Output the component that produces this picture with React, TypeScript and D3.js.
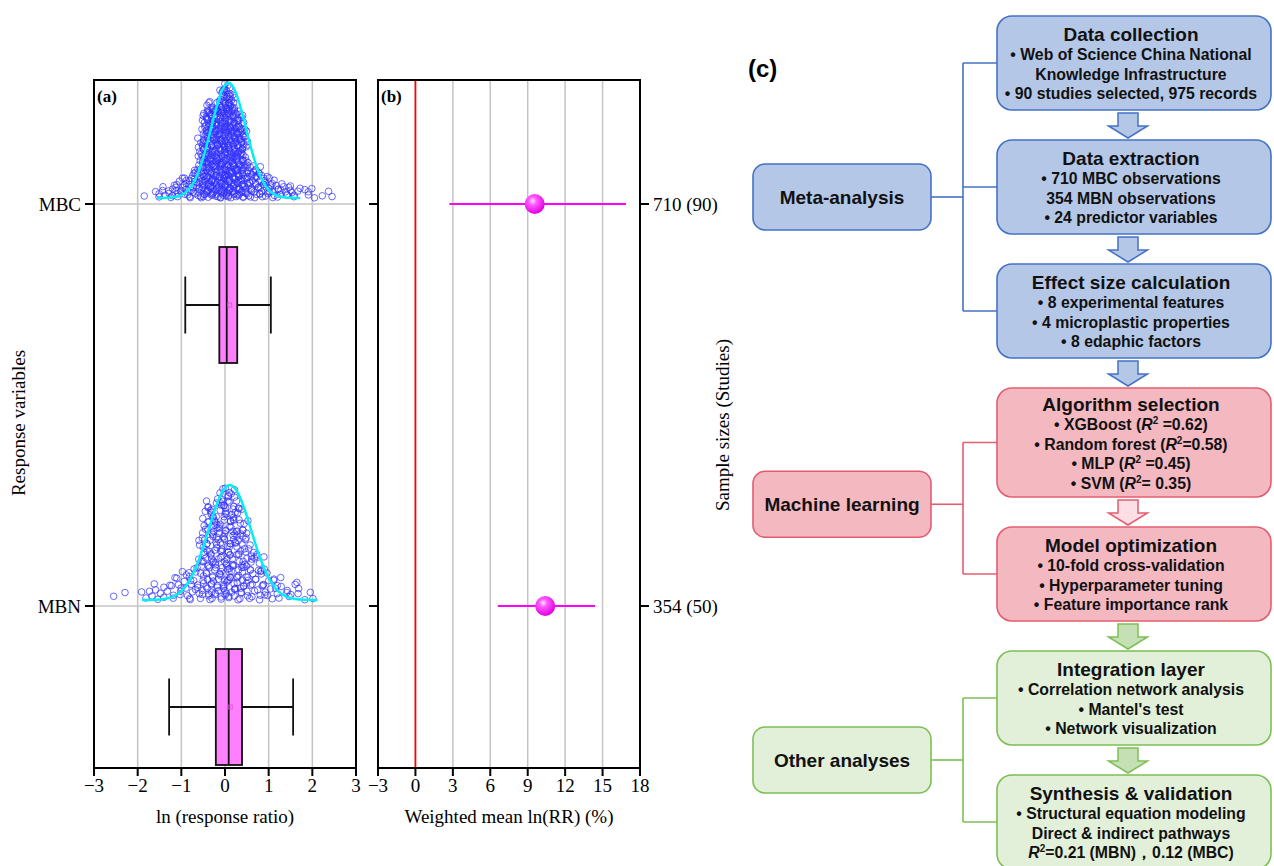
import * as d3 from 'd3';

// ---- data ----
const categories = ['MBC', 'MBN'];
const sampleLabels = ['710 (90)', '354 (50)'];

// ln(RR) distribution, [bin centre, count] per response variable (bin width 0.1)
const mbcBins: [number, number][] = [
  [-1.85, 1], [-1.55, 2], [-1.45, 2], [-1.35, 3], [-1.25, 3], [-1.15, 4], [-1.05, 5],
  [-0.95, 6], [-0.85, 8], [-0.75, 9], [-0.65, 10], [-0.55, 28], [-0.45, 50], [-0.35, 55],
  [-0.25, 50], [-0.15, 54], [-0.05, 66], [0.05, 70], [0.15, 60], [0.25, 52], [0.35, 45],
  [0.45, 35], [0.55, 12], [0.65, 12], [0.75, 11], [0.85, 9], [0.95, 7], [1.05, 6],
  [1.15, 5], [1.25, 4], [1.35, 4], [1.45, 3], [1.55, 3], [1.65, 3], [1.85, 2],
  [1.95, 2], [2.05, 1], [2.15, 1], [2.45, 2],
];
const mbnBins: [number, number][] = [
  [-2.55, 1], [-2.25, 1], [-1.85, 2], [-1.75, 1], [-1.65, 2], [-1.55, 2], [-1.45, 2],
  [-1.35, 2], [-1.25, 2], [-1.15, 3], [-1.05, 4], [-0.95, 4], [-0.85, 5], [-0.75, 5],
  [-0.65, 6], [-0.55, 12], [-0.45, 22], [-0.35, 23], [-0.25, 23], [-0.15, 24],
  [-0.05, 27], [0.05, 28], [0.15, 27], [0.25, 24], [0.35, 21], [0.45, 18], [0.55, 12],
  [0.65, 9], [0.75, 8], [0.85, 7], [0.95, 5], [1.05, 4], [1.15, 3], [1.25, 3],
  [1.35, 2], [1.45, 2], [1.55, 2], [1.65, 2], [1.75, 2], [1.95, 1], [2.05, 1],
];
const distBins = [mbcBins, mbnBins];

// fitted normal curves
const fitMean = [0.08, 0.11];
const fitSd = [0.40, 0.49];

// box plot statistics
const boxQ1 = [-0.13, -0.21];
const boxMedian = [0.04, 0.085];
const boxQ3 = [0.28, 0.39];
const boxMean = [0.11, 0.12];
const whiskerLow = [-0.91, -1.28];
const whiskerHigh = [1.05, 1.56];

// weighted mean effect (%) with 95% CI
const forestMean = [9.56, 10.4];
const forestLow = [2.72, 6.6];
const forestHigh = [16.88, 14.4];

const ticksA = [-3, -2, -1, 0, 1, 2, 3];
const ticksB = [-3, 0, 3, 6, 9, 12, 15, 18];

// ---- flowchart text ----
const groupLabels = ['Meta-analysis', 'Machine learning', 'Other analyses'];
const groupThemes = ['blue', 'pink', 'green'];
const stageGroup = [0, 0, 0, 1, 1, 2, 2];
const stageTitles = [
  'Data collection', 'Data extraction', 'Effect size calculation',
  'Algorithm selection', 'Model optimization', 'Integration layer', 'Synthesis & validation',
];
const stageLines = [
  ['• Web of Science China National', 'Knowledge Infrastructure', '• 90 studies selected, 975 records'],
  ['• 710 MBC observations', '354 MBN observations', '• 24 predictor variables'],
  ['• 8 experimental features', '• 4 microplastic properties', '• 8 edaphic factors'],
  ['• XGBoost (R^2 =0.62)', '• Random forest (R^2=0.58)', '• MLP (R^2 =0.45)', '• SVM (R^2= 0.35)'],
  ['• 10-fold cross-validation', '• Hyperparameter tuning', '• Feature importance rank'],
  ['• Correlation network analysis', "• Mantel's test", '• Network visualization'],
  ['• Structural equation modeling', 'Direct & indirect pathways', 'R^2=0.21 (MBN)，0.12 (MBC)'],
];
const arrowThemes = ['blue', 'blue', 'blue', 'pink', 'green', 'green'];

const themes: Record<string, { fill: string; stroke: string; arrow: string }> = {
  blue: { fill: '#b4c7e7', stroke: '#4472c4', arrow: '#b4c7e7' },
  pink: { fill: '#f4b8c1', stroke: '#e35d70', arrow: '#fbdfe4' },
  green: { fill: '#e2f0d9', stroke: '#7dbf55', arrow: '#c5e0b4' },
};

const SERIF = '"Liberation Serif", "Times New Roman", serif';
const SANS = '"Liberation Sans", Arial, sans-serif';
const FS = 19;

function halton(i: number, b: number) {
  let f = 1, r = 0;
  while (i > 0) { f /= b; r += f * (i % b); i = Math.floor(i / b); }
  return r;
}

function RichLine({ text, x, y }: { text: string; x: number; y: number }) {
  const parts = text.split('R^2');
  return (
    <text x={x} y={y} textAnchor="middle" fontFamily={SANS} fontWeight="bold" fontSize={15.8} fill="#111">
      {parts.map((p, i) => (
        <tspan key={i}>
          {i > 0 && <tspan fontStyle="italic">R</tspan>}
          {i > 0 && <tspan fontSize={10} dy={-6}>2</tspan>}
          {i > 0 ? <tspan dy={6}>{p}</tspan> : p}
        </tspan>
      ))}
    </text>
  );
}

function PanelAB() {
  const top = 80, bottom = 768;
  const xA = d3.scaleLinear().domain([-3, 3]).range([94, 356]);
  const xB = d3.scaleLinear().domain([-3, 18]).range([378, 640]);
  const y = d3.scalePoint<string>().domain(categories).range([204, 606]);
  const fmt = d3.format('d');
  const maxH = 115;
  const boxH = 116, capH = 57, boxOff = 101;
  const tickLen = 8, tickY = 792, titleY = 823;

  const circles: { cx: number; cy: number }[] = [];
  const curves: string[] = [];
  categories.forEach((c, ci) => {
    const base = (y(c) as number) - 6;
    const bins = distBins[ci];
    const maxN = d3.max(bins, (b) => b[1]) as number;
    let idx = 1;
    bins.forEach(([centre, n]) => {
      // vertical jitter spread grows with local density
      const h = Math.max(2, maxH * Math.pow(n / maxN, 0.7));
      for (let k = 0; k < n; k++) {
        const v = centre + (halton(idx, 2) - 0.5) * 0.16;
        circles.push({ cx: xA(v), cy: base - halton(idx, 3) * h });
        idx++;
      }
    });
    const m = fitMean[ci], s = fitSd[ci];
    const pts = d3.range(m - 4.1 * s, m + 4.1 * s + 1e-9, s / 20);
    const line = d3.line<number>()
      .x((v) => xA(v))
      .y((v) => base - maxH * Math.exp(-0.5 * ((v - m) / s) ** 2))
      .curve(d3.curveBasis);
    curves.push(line(pts) as string);
  });

  return (
    <g>
      <defs>
        <radialGradient id="sphere" cx="40%" cy="35%" r="65%">
          <stop offset="0%" stopColor="#ffe6ff" />
          <stop offset="30%" stopColor="#ff5cff" />
          <stop offset="100%" stopColor="#e000e0" />
        </radialGradient>
      </defs>
      {/* panel a grid */}
      {ticksA.slice(1, -1).map((t) => (
        <line key={t} x1={xA(t)} x2={xA(t)} y1={top} y2={bottom} stroke="#c4c4c4" strokeWidth={1.5} />
      ))}
      {categories.map((c) => (
        <line key={c} x1={94} x2={356} y1={y(c)} y2={y(c)} stroke="#c4c4c4" strokeWidth={1.5} />
      ))}
      {circles.map((p, i) => (
        <circle key={i} cx={p.cx} cy={p.cy} r={3.3} fill="none" stroke="#3030ff" strokeOpacity={0.85} strokeWidth={0.85} />
      ))}
      {curves.map((d, i) => (
        <path key={i} d={d} fill="none" stroke="#00f0f0" strokeWidth={2.5} />
      ))}
      {categories.map((c, i) => {
        const cy = (y(c) as number) + boxOff;
        return (
          <g key={c} stroke="#111" strokeWidth={1.8}>
            <line x1={xA(whiskerLow[i])} x2={xA(boxQ1[i])} y1={cy} y2={cy} />
            <line x1={xA(boxQ3[i])} x2={xA(whiskerHigh[i])} y1={cy} y2={cy} />
            <line x1={xA(whiskerLow[i])} x2={xA(whiskerLow[i])} y1={cy - capH / 2} y2={cy + capH / 2} />
            <line x1={xA(whiskerHigh[i])} x2={xA(whiskerHigh[i])} y1={cy - capH / 2} y2={cy + capH / 2} />
            <rect x={xA(boxQ1[i])} y={cy - boxH / 2} width={xA(boxQ3[i]) - xA(boxQ1[i])} height={boxH} fill="#ff80ff" />
            <line x1={xA(boxMedian[i])} x2={xA(boxMedian[i])} y1={cy - boxH / 2} y2={cy + boxH / 2} />
            <rect x={xA(boxMean[i]) - 2} y={cy - 2} width={4} height={4} fill="none" stroke="#d050d0" strokeWidth={0.8} />
          </g>
        );
      })}
      {/* panel a frame & axes */}
      <rect x={94} y={top} width={262} height={bottom - top} fill="none" stroke="#000" strokeWidth={2} />
      {ticksA.map((t) => (
        <g key={t}>
          <line x1={xA(t)} x2={xA(t)} y1={bottom} y2={bottom + tickLen} stroke="#000" strokeWidth={2} />
          <text x={xA(t)} y={tickY} textAnchor="middle" fontFamily={SERIF} fontSize={FS}>{fmt(t)}</text>
        </g>
      ))}
      {categories.map((c) => (
        <g key={c}>
          <line x1={85} x2={94} y1={y(c)} y2={y(c)} stroke="#000" strokeWidth={2} />
          <text x={81} y={(y(c) as number) + 6.5} textAnchor="end" fontFamily={SERIF} fontSize={FS}>{c}</text>
        </g>
      ))}
      <text x={97} y={102} fontFamily={SERIF} fontWeight="bold" fontSize={17}>(a)</text>
      <text x={225} y={titleY} textAnchor="middle" fontFamily={SERIF} fontSize={FS}>ln (response ratio)</text>
      <text transform="translate(25,423) rotate(-90)" textAnchor="middle" fontFamily={SERIF} fontSize={FS}>Response variables</text>

      {/* panel b */}
      {ticksB.slice(2, -1).map((t) => (
        <line key={t} x1={xB(t)} x2={xB(t)} y1={top} y2={bottom} stroke="#c4c4c4" strokeWidth={1.5} />
      ))}
      <line x1={xB(0)} x2={xB(0)} y1={top} y2={bottom} stroke="#ff0000" strokeWidth={1.8} />
      {categories.map((c, i) => (
        <g key={c}>
          <line x1={xB(forestLow[i])} x2={xB(forestHigh[i])} y1={y(c)} y2={y(c)} stroke="#ff00ff" strokeWidth={2} />
          <circle cx={xB(forestMean[i])} cy={y(c)} r={10} fill="url(#sphere)" />
        </g>
      ))}
      <rect x={378} y={top} width={262} height={bottom - top} fill="none" stroke="#000" strokeWidth={2} />
      {ticksB.map((t) => (
        <g key={t}>
          <line x1={xB(t)} x2={xB(t)} y1={bottom} y2={bottom + tickLen} stroke="#000" strokeWidth={2} />
          <text x={xB(t)} y={tickY} textAnchor="middle" fontFamily={SERIF} fontSize={FS}>{fmt(t)}</text>
        </g>
      ))}
      {categories.map((c, i) => (
        <g key={c}>
          <line x1={369} x2={378} y1={y(c)} y2={y(c)} stroke="#000" strokeWidth={2} />
          <line x1={640} x2={649} y1={y(c)} y2={y(c)} stroke="#000" strokeWidth={2} />
          <text x={653} y={(y(c) as number) + 6.5} fontFamily={SERIF} fontSize={FS}>{sampleLabels[i]}</text>
        </g>
      ))}
      <text x={381} y={102} fontFamily={SERIF} fontWeight="bold" fontSize={17}>(b)</text>
      <text x={509} y={titleY} textAnchor="middle" fontFamily={SERIF} fontSize={FS}>Weighted mean ln(RR) (%)</text>
      <text transform="translate(729,425) rotate(-90)" textAnchor="middle" fontFamily={SERIF} fontSize={FS}>Sample sizes (Studies)</text>
    </g>
  );
}

function Flowchart() {
  const boxX = 997, boxW = 274, boxR = 15;
  const cx = boxX + boxW / 2 - 3;
  const arrowX = 1128;
  const sideX = 753, sideW = 178, sideH = 66;
  const spineX = 963;
  const gap = 30;
  const lineGap = 19.5;

  // stacked layout of stage boxes
  let cursor = 16;
  const boxes = stageTitles.map((t, i) => {
    const h = 94 + (stageLines[i].length - 3) * 15;
    const b = { top: cursor, h };
    cursor += h + gap;
    return b;
  });
  const sideNudge = [10, -4, 0];

  return (
    <g>
      <text x={748} y={77} fontFamily={SANS} fontWeight="bold" fontSize={24}>(c)</text>
      {groupLabels.map((label, g) => {
        const th = themes[groupThemes[g]];
        const members = boxes.filter((_, i) => stageGroup[i] === g);
        const centers = members.map((b) => b.top + b.h / 2);
        const sideCy = d3.mean(centers)! + sideNudge[g];
        return (
          <g key={label}>
            <g stroke={th.stroke} strokeWidth={1.6} fill="none">
              <line x1={spineX} x2={spineX} y1={centers[0]} y2={centers[centers.length - 1]} />
              {centers.map((c, k) => (
                <line key={k} x1={spineX} x2={boxX} y1={c} y2={c} />
              ))}
              <line x1={sideX + sideW} x2={spineX} y1={sideCy} y2={sideCy} />
            </g>
            <rect x={sideX} y={sideCy - sideH / 2} width={sideW} height={sideH} rx={12}
              fill={th.fill} stroke={th.stroke} strokeWidth={1.6} />
            <text x={sideX + sideW / 2} y={sideCy + 6.5} textAnchor="middle" fontFamily={SANS}
              fontWeight="bold" fontSize={19} fill="#111">{label}</text>
          </g>
        );
      })}
      {boxes.map((b, i) => {
        const th = themes[groupThemes[stageGroup[i]]];
        const n = stageLines[i].length;
        const first = b.top + b.h / 2 - (n * lineGap) / 2 + 7;
        return (
          <g key={i}>
            <rect x={boxX} y={b.top} width={boxW} height={b.h} rx={boxR}
              fill={th.fill} stroke={th.stroke} strokeWidth={1.6} />
            <text x={cx} y={first} textAnchor="middle" fontFamily={SANS} fontWeight="bold"
              fontSize={19} fill="#111">{stageTitles[i]}</text>
            {stageLines[i].map((l, k) => (
              <RichLine key={k} text={l} x={cx} y={first + (k + 1) * lineGap} />
            ))}
          </g>
        );
      })}
      {boxes.slice(1).map((b, i) => {
        const th = themes[arrowThemes[i]];
        const y0 = b.top - 27, y1 = b.top - 2, yh = y0 + 13;
        const pts = [
          [arrowX - 10, y0], [arrowX + 10, y0], [arrowX + 10, yh], [arrowX + 19.5, yh],
          [arrowX, y1], [arrowX - 19.5, yh], [arrowX - 10, yh],
        ];
        return (
          <polygon key={i} points={pts.map((p) => p.join(',')).join(' ')}
            fill={th.arrow} stroke={th.stroke} strokeWidth={1.5} strokeLinejoin="miter" />
        );
      })}
    </g>
  );
}

export default function App() {
  return (
    <svg width={1274} height={866} style={{ position: 'absolute', left: 0, top: 0, background: '#fff' }}>
      <rect width={1274} height={866} fill="#fff" />
      <PanelAB />
      <Flowchart />
    </svg>
  );
}
